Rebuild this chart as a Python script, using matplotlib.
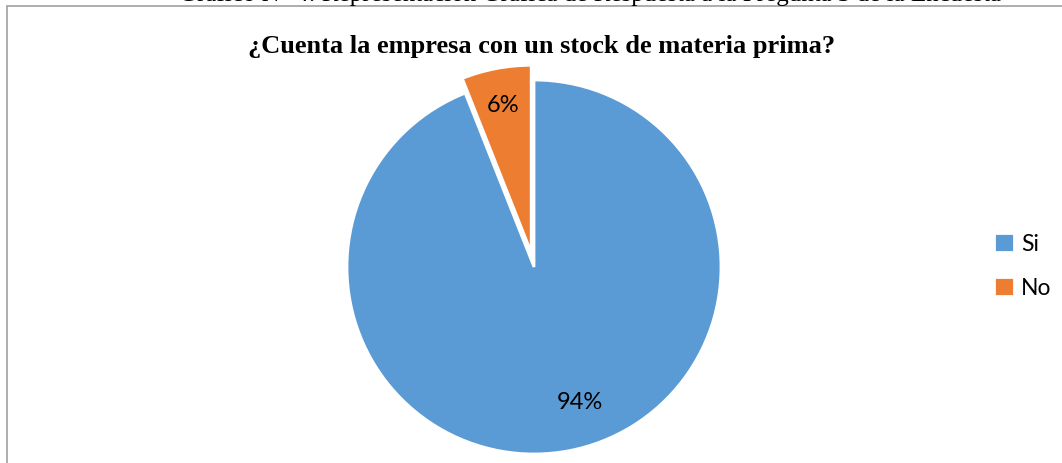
import matplotlib.pyplot as plt
from matplotlib.patches import Rectangle

labels = ["Si", "No"]
values = [94, 6]
colors = ["#5b9bd5", "#ed7d31"]
explode = [0, 0.08]

title = "¿Cuenta la empresa con un stock de materia prima?"
caption = "Gráfico N° 4: Representación Gráfica de Respuesta a la Pregunta 3 de la Encuesta"

W, H = 1062, 463
fig = plt.figure(figsize=(W / 100, H / 100), dpi=100)

# chart frame (left and top edges visible)
fig.patches.append(Rectangle((7 / W, -0.1), 1.2, 1.1 - 6 / H,
                             transform=fig.transFigure, fill=False,
                             edgecolor="#a0a0a0", linewidth=1.2))

# caption of the page, mostly cut off above the frame
fig.text(590 / W, 1 - 1.5 / H, caption, ha="center", va="baseline",
         family="Liberation Serif", fontsize=18)

fig.text(542 / W, 1 - 47 / H, title, ha="center", va="center",
         family="Liberation Serif", fontweight="bold", fontsize=19)

r = 187
cx, cy = 534, 267
ax = fig.add_axes([(cx - r) / W, (H - cy - r) / H, 2 * r / W, 2 * r / H])
wedges, texts, autotexts = ax.pie(
    values, colors=colors, explode=explode, startangle=90,
    counterclock=False, autopct="%d%%", pctdistance=0.8,
    wedgeprops=dict(edgecolor="white", linewidth=2),
    textprops=dict(family="Lato", fontsize=17, color="black"))
for w in wedges:
    w.set_clip_on(False)
# big-slice label sits a little further round, as in the office chart
autotexts[0].set_position((0.245, -0.727))
ax.set_xlim(-1, 1)
ax.set_ylim(-1, 1)
ax.set_aspect("equal")
ax.axis("off")

fig.legend(wedges, labels, loc="center left",
           bbox_to_anchor=(973 / W, 1 - 266 / H), frameon=False,
           prop=dict(family="Lato", size=16.5), handlelength=0.9,
           handleheight=0.9, handletextpad=0.3, labelspacing=1.0)

fig.savefig("out.png", dpi=100)
